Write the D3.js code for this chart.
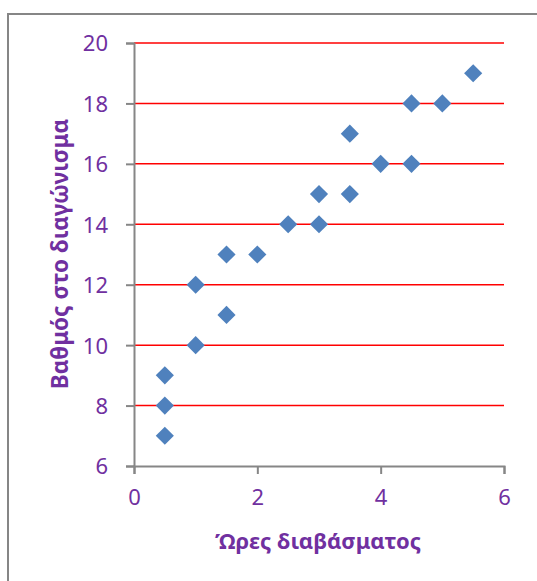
<!DOCTYPE html>
<html>
<head>
<meta charset="utf-8">
<script src="https://cdn.jsdelivr.net/npm/d3@7"></script>
<style>
  html, body { margin: 0; padding: 0; background: #fff; }
  svg { display: block; }
</style>
</head>
<body>
<script>
// Study hours vs. exam grade
const hours  = [0.5, 0.5, 0.5, 1, 1, 1.5, 1.5, 2, 2.5, 3, 3, 3.5, 3.5, 4, 4.5, 4.5, 5, 5.5];
const grades = [7, 8, 9, 10, 12, 11, 13, 13, 14, 14, 15, 15, 17, 16, 16, 18, 18, 19];
const xTicks = [0, 2, 4, 6];
const yTicks = [6, 8, 10, 12, 14, 16, 18, 20];
const xTitle = "Ώρες διαβάσματος";
const yTitle = "Βαθμός στο διαγώνισμα";

const W = 537, H = 581;
const purple = "#7030A0";
const font = "'Noto Sans', sans-serif";

const svg = d3.select("body").append("svg").attr("width", W).attr("height", H);

// chart frame
svg.append("rect")
  .attr("x", 8).attr("y", 14)
  .attr("width", W + 10).attr("height", H + 10)
  .attr("fill", "#fff").attr("stroke", "#868686").attr("stroke-width", 2);

const x = d3.scaleLinear().domain([0, 6]).range([134, 504]);
const y = d3.scaleLinear().domain([6, 20]).range([466, 43]);

// horizontal gridlines
svg.append("g").selectAll("line")
  .data(yTicks.filter(t => t > 6))
  .join("line")
  .attr("x1", x(0)).attr("x2", x(6))
  .attr("y1", d => y(d)).attr("y2", d => y(d))
  .attr("stroke", "#ff0000").attr("stroke-width", 1.5);

// axes
const yAxis = svg.append("g")
  .attr("transform", `translate(${x(0)},0)`)
  .call(d3.axisLeft(y).tickValues(yTicks).tickSize(8).tickPadding(18).tickFormat(d3.format("d")));
const xAxis = svg.append("g")
  .attr("transform", `translate(0,${y(6)})`)
  .call(d3.axisBottom(x).tickValues(xTicks).tickSize(8).tickPadding(17).tickFormat(d3.format("d")));

[yAxis, xAxis].forEach(g => {
  g.select(".domain").attr("stroke", "#868686").attr("stroke-width", 2);
  g.selectAll(".tick line").attr("stroke", "#868686").attr("stroke-width", 2);
  g.selectAll(".tick text")
    .attr("fill", purple)
    .style("font-family", font)
    .style("font-size", "22px");
});
yAxis.selectAll(".tick text").attr("dy", "0.36em");
xAxis.selectAll(".tick text").attr("dy", "0.62em");

// points as diamonds
const diamond = d3.symbol().type(d3.symbolDiamond2).size(210);
svg.append("g").selectAll("path")
  .data(hours.map((h, i) => [h, grades[i]]))
  .join("path")
  .attr("d", diamond)
  .attr("transform", d => `translate(${x(d[0])},${y(d[1])})`)
  .attr("fill", "#4F81BD");

// axis titles
svg.append("text")
  .attr("x", 318).attr("y", 549)
  .attr("text-anchor", "middle")
  .attr("fill", purple)
  .style("font-family", font)
  .style("font-size", "22px")
  .style("font-weight", "bold")
  .text(xTitle);

svg.append("text")
  .attr("transform", `translate(68,254) rotate(-90)`)
  .attr("text-anchor", "middle")
  .attr("fill", purple)
  .style("font-family", font)
  .style("font-size", "22.5px")
  .style("font-weight", "bold")
  .text(yTitle);
</script>
</body>
</html>
